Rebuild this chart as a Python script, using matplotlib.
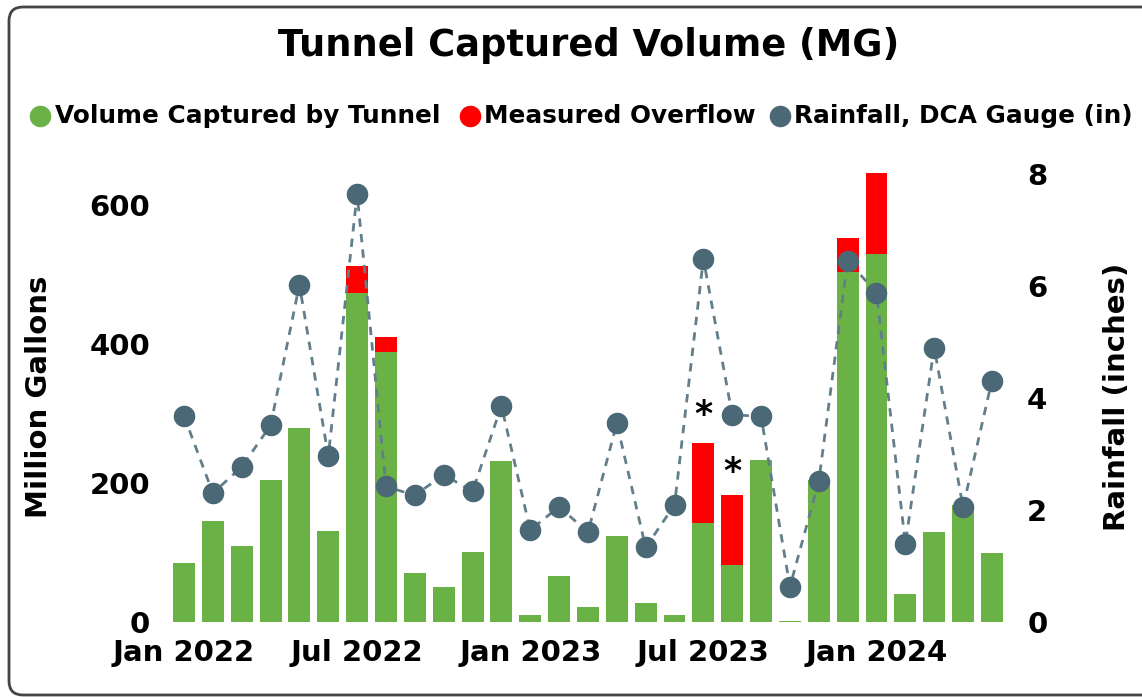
import matplotlib
matplotlib.use("Agg")
import matplotlib.pyplot as plt
import matplotlib.patches as mpatches
from matplotlib.lines import Line2D
import numpy as np

months = ["Jan 2022", "Feb 2022", "Mar 2022", "Apr 2022", "May 2022", "Jun 2022",
          "Jul 2022", "Aug 2022", "Sep 2022", "Oct 2022", "Nov 2022", "Dec 2022",
          "Jan 2023", "Feb 2023", "Mar 2023", "Apr 2023", "May 2023", "Jun 2023",
          "Jul 2023", "Aug 2023", "Sep 2023", "Oct 2023", "Nov 2023", "Dec 2023",
          "Jan 2024", "Feb 2024", "Mar 2024", "Apr 2024", "May 2024"]
captured = [85, 145, 109, 205, 279, 131, 474, 389, 70, 51, 101, 231,
            10, 66, 21, 124, 28, 10, 143, 82, 233, 1, 204, 503,
            530, 41, 130, 168, 99]
overflow = [0, 0, 0, 0, 0, 0, 38, 21, 0, 0, 0, 0,
            0, 0, 0, 0, 0, 0, 114, 101, 0, 0, 0, 49,
            116, 0, 0, 0, 0]
rainfall = [3.68, 2.30, 2.77, 3.51, 6.02, 2.96, 7.64, 2.42, 2.26, 2.63, 2.33, 3.86,
            1.64, 2.06, 1.60, 3.55, 1.33, 2.09, 6.48, 3.70, 3.67, 0.63, 2.51, 6.45,
            5.88, 1.40, 4.90, 2.05, 4.31]
xtick_labels = ["Jan 2022", "Jul 2022", "Jan 2023", "Jul 2023", "Jan 2024"]
starred = ["Jul 2023", "Aug 2023"]

GREEN = "#6ab245"
RED = "#ff0000"
DOT = "#4a6875"
LINE = "#617e8a"
FONT = "DejaVu Sans"

plt.rcParams['font.family'] = [FONT]
plt.rcParams['font.weight'] = 'bold'

fig = plt.figure(figsize=(11.42, 6.97), dpi=100)
ax = fig.add_axes([0.1485, 0.1076, 0.7327, 0.647])
ax2 = ax.twinx()

x = np.arange(len(months))
ax.bar(x, captured, width=0.76, color=GREEN, zorder=2)
ax.bar(x, overflow, bottom=captured, width=0.76, color=RED, zorder=2)

ax2.plot(x, rainfall, linestyle=(0, (3, 2.6)), color=LINE, lw=2, zorder=3)
ax2.plot(x, rainfall, linestyle='none', marker='o', markersize=14.5,
         color=DOT, zorder=4)

for m, off in zip(starred, [8, 4]):
    i = months.index(m)
    tot = captured[i] + overflow[i]
    ax.annotate("*", xy=(i, tot), xytext=(0, off), textcoords="offset points",
                ha="center", va="bottom", fontsize=25, fontweight="bold",
                color="black", zorder=5)

ax.set_xlim(-0.5, len(months) - 0.5)
ax.set_ylim(0, 649)
ax2.set_ylim(0, 8.05)
ax.set_yticks([0, 200, 400, 600])
ax2.set_yticks([0, 2, 4, 6, 8])
ax.set_xticks([months.index(m) for m in xtick_labels])
ax.set_xticklabels(xtick_labels)

for a in (ax, ax2):
    for s in a.spines.values():
        s.set_visible(False)
ax.tick_params(axis='both', length=0, labelsize=21)
ax.tick_params(axis='y', pad=14)
ax.tick_params(axis='x', pad=12.5)
ax2.tick_params(axis='y', length=0, labelsize=21, pad=15)
for lab in ax.get_xticklabels() + ax.get_yticklabels() + ax2.get_yticklabels():
    lab.set_fontweight('bold')

ax.set_ylabel("Million Gallons", fontsize=21, fontweight='bold')
ax.yaxis.set_label_coords(-0.1393, 0.5)
ax2.set_ylabel("Rainfall (inches)", fontsize=21, fontweight='bold')
ax2.yaxis.set_label_coords(1.1154, 0.5)

fig.text(589 / 1142, (697 - 45) / 697, "Tunnel Captured Volume (MG)", ha='center', va='center',
         fontsize=26.5, fontweight='bold')

ly = (697 - 116) / 697
items = [(40, 55, GREEN, "Volume Captured by Tunnel"),
         (470, 484, RED, "Measured Overflow"),
         (780, 794, DOT, "Rainfall, DCA Gauge (in)")]
for cx, tx, col, label in items:
    fig.add_artist(Line2D([cx / 1142], [ly], marker='o', markersize=14.5, color=col,
                          linestyle='none', transform=fig.transFigure))
    fig.text(tx / 1142, ly, label, ha='left', va='center', fontsize=17.8, fontweight='bold')

border = mpatches.FancyBboxPatch((9, 2), 1200, 688, boxstyle="round,pad=0,rounding_size=14",
                                 transform=None, fill=False, edgecolor='#444444', lw=2)
fig.add_artist(border)

fig.savefig("out.png", dpi=100)
